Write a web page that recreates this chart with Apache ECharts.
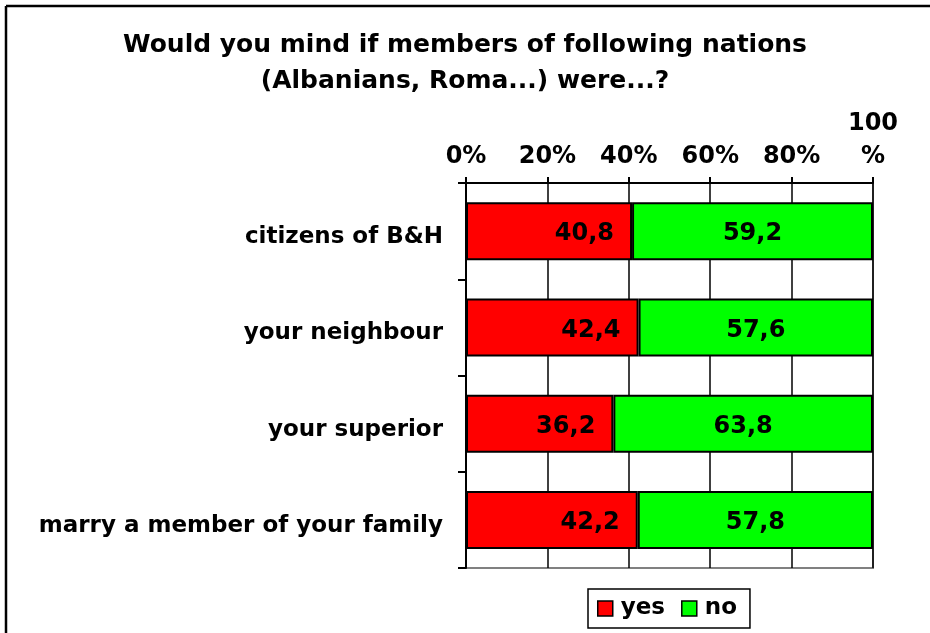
<!DOCTYPE html>
<html>
<head>
<meta charset="utf-8">
<script src="https://cdn.jsdelivr.net/npm/echarts@6/dist/echarts.min.js"></script>
<style>
  html, body { margin: 0; padding: 0; background: #ffffff; }
  #chart { width: 930px; height: 633px; }
</style>
</head>
<body>
<div id="chart"></div>
<script>
// Survey answers, percent of respondents
const categories = ['citizens of B&H', 'your neighbour', 'your superior', 'marry a member of your family'];
const yesValues = [40.8, 42.4, 36.2, 42.2];
const noValues = [59.2, 57.6, 63.8, 57.8];
const seriesNames = ['yes', 'no'];
const titleText = 'Would you mind if members of following nations\n(Albanians, Roma...) were...?';

const FONT = '"DejaVu Sans", Verdana, sans-serif';
const fmtComma = v => String(v).replace('.', ',');

const chart = echarts.init(document.getElementById('chart'), null, { renderer: 'canvas' });

chart.setOption({
  backgroundColor: '#ffffff',
  animation: false,
  title: {
    text: titleText,
    left: 'center',
    top: 22,
    textStyle: {
      fontFamily: FONT,
      fontWeight: 'bold',
      fontSize: 25,
      lineHeight: 36,
      color: '#000000'
    }
  },
  legend: {
    data: seriesNames,
    icon: 'rect',
    bottom: 5,
    left: 588,
    itemWidth: 15,
    itemHeight: 15,
    itemGap: 16,
    padding: [8, 13, 8, 9],
    borderColor: '#000000',
    borderWidth: 1.5,
    textStyle: {
      fontFamily: FONT,
      fontWeight: 'bold',
      fontSize: 23,
      color: '#000000',
      padding: [0, 0, 0, 3]
    },
    itemStyle: { borderColor: '#000000', borderWidth: 1.5 }
  },
  grid: {
    left: 466,
    right: 57,
    top: 183,
    bottom: 65,
    show: true,
    borderColor: '#808080',
    borderWidth: 2,
    backgroundColor: 'transparent'
  },
  xAxis: {
    type: 'value',
    position: 'top',
    min: 0,
    max: 100,
    interval: 20,
    axisLine: { show: true, lineStyle: { color: '#000000', width: 2 } },
    axisTick: { show: true, length: 6, lineStyle: { color: '#000000', width: 2 } },
    splitLine: { show: true, lineStyle: { color: '#000000', width: 1.5 } },
    axisLabel: {
      margin: 10,
      fontFamily: FONT,
      fontWeight: 'bold',
      fontSize: 24,
      lineHeight: 33,
      color: '#000000',
      formatter: v => (v === 100 ? '100\n%' : v + '%')
    }
  },
  yAxis: {
    type: 'category',
    data: categories,
    inverse: true,
    axisLine: { show: true, lineStyle: { color: '#000000', width: 2 } },
    axisTick: { show: true, length: 8, lineStyle: { color: '#000000', width: 2 } },
    splitLine: { show: false },
    axisLabel: {
      margin: 23,
      color: '#000000',
      formatter: v => '{c|' + v + '}',
      rich: {
        c: {
          fontFamily: FONT,
          fontWeight: 'bold',
          fontSize: 23,
          color: '#000000',
          padding: [12, 0, 0, 0]
        }
      }
    }
  },
  series: [
    {
      name: seriesNames[0],
      type: 'bar',
      stack: 'total',
      data: yesValues,
      barWidth: 58,
      itemStyle: { color: '#ff0000', borderColor: '#000000', borderWidth: 2 },
      label: {
        show: true,
        position: 'insideRight',
        distance: 18,
        offset: [0, 3],
        fontFamily: FONT,
        fontWeight: 'bold',
        fontSize: 24,
        color: '#000000',
        formatter: p => fmtComma(p.value)
      }
    },
    {
      name: seriesNames[1],
      type: 'bar',
      stack: 'total',
      data: noValues,
      barWidth: 58,
      itemStyle: { color: '#00ff00', borderColor: '#000000', borderWidth: 2 },
      label: {
        show: true,
        position: 'inside',
        offset: [0, 3],
        fontFamily: FONT,
        fontWeight: 'bold',
        fontSize: 24,
        color: '#000000',
        formatter: p => fmtComma(p.value)
      }
    }
  ],
  graphic: [
    // outer frame edges (top and left)
    { type: 'line', shape: { x1: 6, y1: 6, x2: 930, y2: 6 }, style: { stroke: '#000000', lineWidth: 2.5 } },
    { type: 'line', shape: { x1: 6, y1: 6, x2: 6, y2: 633 }, style: { stroke: '#000000', lineWidth: 2.5 } }
  ]
});
</script>
</body>
</html>
